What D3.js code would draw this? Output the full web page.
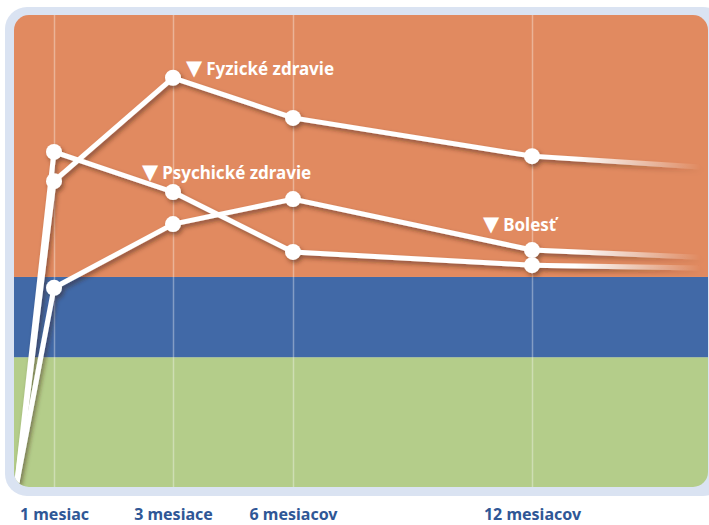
<!DOCTYPE html>
<html>
<head>
<meta charset="utf-8">
<script src="https://cdn.jsdelivr.net/npm/d3@7"></script>
<style>
  body { margin: 0; background: #fff; }
  svg { display: block; }
</style>
</head>
<body>
<div id="canvas"></div>
<script>
// ----------------------------------------------------------
// DATA -----------------------------------------------------
// ----------------------------------------------------------
var months = [0, 1, 3, 6, 12, 16];
var tick_months = [1, 3, 6, 12];
var tick_labels = ["1 mesiac", "3 mesiace", "6 mesiacov", "12 mesiacov"];

var series_names = ["Fyzické zdravie", "Psychické zdravie", "Bolesť"];
var fyzicke = [1, 64.8, 86.7, 78.2, 70.1, 67.8];
var psychicke = [1, 71.0, 62.5, 49.8, 47.0, 46.4];
var bolest = [1, 42.2, 55.7, 61.0, 50.2, 48.7];

// background zones (value thresholds)
var zone_limits = [0, 27.5, 44.5, 100];
var zone_colors = ["#b4cd8a", "#4169a7", "#e18a60"];

// ----------------------------------------------------------
// STRUCTURE ------------------------------------------------
// ----------------------------------------------------------
var W = 709, H = 525;
var plot = { left: 14, top: 15, right: 708, bottom: 487, r: 15 };

var svg = d3.select("#canvas").append("svg")
  .attr("width", W)
  .attr("height", H);

var defs = svg.append("defs");

defs.append("clipPath").attr("id", "plotClip")
  .append("rect")
  .attr("x", plot.left).attr("y", plot.top)
  .attr("width", plot.right - plot.left)
  .attr("height", plot.bottom - plot.top)
  .attr("rx", plot.r).attr("ry", plot.r);

var shadow = defs.append("filter").attr("id", "shadow")
  .attr("x", "-10%").attr("y", "-10%").attr("width", "130%").attr("height", "130%");
shadow.append("feDropShadow")
  .attr("dx", 2).attr("dy", 3)
  .attr("stdDeviation", 2)
  .attr("flood-color", "#3a1f10")
  .attr("flood-opacity", 0.5);

var fade = defs.append("linearGradient").attr("id", "fade")
  .attr("gradientUnits", "userSpaceOnUse")
  .attr("x1", 575).attr("x2", 700).attr("y1", 0).attr("y2", 0);
fade.append("stop").attr("offset", 0).attr("stop-color", "#fff").attr("stop-opacity", 1);
fade.append("stop").attr("offset", 1).attr("stop-color", "#fff").attr("stop-opacity", 0);

// ----------------------------------------------------------
// SCALES ---------------------------------------------------
// ----------------------------------------------------------
var xScale = d3.scaleLinear()
  .domain(months)
  .range([17, 54, 173, 293, 532, 700]);

var yScale = d3.scaleLinear()
  .domain([0, 100])
  .range([plot.bottom, plot.top]);

// ----------------------------------------------------------
// FRAME + ZONES --------------------------------------------
// ----------------------------------------------------------
svg.append("rect")
  .attr("x", 5).attr("y", 7)
  .attr("width", 720).attr("height", 489)
  .attr("rx", 22).attr("ry", 22)
  .attr("fill", "#dae3f2");

var plot_g = svg.append("g").attr("clip-path", "url(#plotClip)");

var zones = d3.range(zone_colors.length).map(function (i) {
  return { lo: zone_limits[i], hi: zone_limits[i + 1], color: zone_colors[i] };
});

plot_g.selectAll(".zone")
  .data(zones)
  .enter().append("rect")
  .attr("class", "zone")
  .attr("x", plot.left)
  .attr("width", plot.right - plot.left)
  .attr("y", function (d) { return yScale(d.hi); })
  .attr("height", function (d) { return yScale(d.lo) - yScale(d.hi) + (d.lo === 0 ? 5 : 0); })
  .attr("fill", function (d) { return d.color; });

// vertical grid lines
plot_g.append("g")
  .attr("class", "grid")
  .attr("transform", "translate(0," + plot.bottom + ")")
  .call(d3.axisBottom(xScale)
    .tickValues(tick_months)
    .tickSize(-(plot.bottom - plot.top))
    .tickFormat(""))
  .call(function (g) { g.select(".domain").remove(); })
  .selectAll("line")
  .attr("stroke", "#ffffff")
  .attr("stroke-opacity", 0.35)
  .attr("stroke-width", 1.5);

// ----------------------------------------------------------
// LINES ----------------------------------------------------
// ----------------------------------------------------------
var all_series = [fyzicke, psychicke, bolest].map(function (vals, i) {
  return {
    name: series_names[i],
    points: vals.map(function (v, j) { return { m: months[j], v: v }; })
  };
});

var line = d3.line()
  .x(function (d) { return xScale(d.m); })
  .y(function (d) { return yScale(d.v); });

var lines_g = plot_g.append("g").attr("filter", "url(#shadow)");

// draw in reverse so Fyzické sits on top
all_series.slice().reverse().forEach(function (s) {
  var n = s.points.length;
  var main = s.points.slice(0, n - 1);
  var tail = s.points.slice(n - 2);

  lines_g.append("path")
    .datum(tail)
    .attr("d", line)
    .attr("fill", "none")
    .attr("stroke", "url(#fade)")
    .attr("stroke-width", 5);

  lines_g.append("path")
    .datum(main)
    .attr("d", line)
    .attr("fill", "none")
    .attr("stroke", "#fff")
    .attr("stroke-width", 5)
    .attr("stroke-linejoin", "round");

  lines_g.selectAll(null)
    .data(main.filter(function (d) { return tick_months.indexOf(d.m) >= 0; }))
    .enter().append("circle")
    .attr("cx", function (d) { return xScale(d.m); })
    .attr("cy", function (d) { return yScale(d.v); })
    .attr("r", 8)
    .attr("fill", "#fff");
});

// ----------------------------------------------------------
// TEXT -----------------------------------------------------
// ----------------------------------------------------------
var font = "'Noto Sans', 'Open Sans', sans-serif";

// series labels: anchored to a point of the series, with offsets
var label_pos = [
  { series: 0, month: 3, dx: 13, dy: -3 },
  { series: 1, month: 3, dx: -31, dy: -13 },
  { series: 2, month: 12, dx: -49, dy: -19 }
];

var labels = svg.append("g").selectAll("text")
  .data(label_pos)
  .enter().append("text")
  .attr("x", function (d) { return xScale(d.month) + d.dx; })
  .attr("y", function (d) {
    var p = all_series[d.series].points.find(function (q) { return q.m === d.month; });
    return yScale(p.v) + d.dy;
  })
  .attr("fill", "#fff")
  .attr("font-family", font)
  .attr("font-weight", "bold")
  .attr("font-size", 17);

labels.append("tspan")
  .attr("font-size", 21)
  .attr("font-family", "'DejaVu Sans', sans-serif")
  .text("\u25BC");
labels.append("tspan")
  .attr("dx", 4)
  .text(function (d) { return series_names[d.series]; });

// x-axis labels
svg.append("g")
  .attr("transform", "translate(0,520)")
  .call(d3.axisBottom(xScale)
    .tickValues(tick_months)
    .tickSize(0)
    .tickFormat(function (d, i) { return tick_labels[i]; }))
  .call(function (g) { g.select(".domain").remove(); })
  .selectAll("text")
  .attr("y", 0)
  .attr("dy", 0)
  .attr("fill", "#2f5796")
  .attr("font-family", font)
  .attr("font-weight", "bold")
  .attr("font-size", 16);
</script>
</body>
</html>
